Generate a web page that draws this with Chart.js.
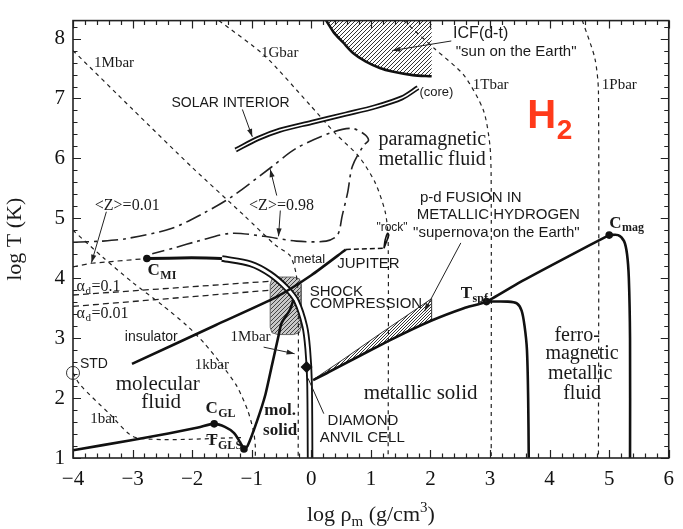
<!DOCTYPE html>
<html>
<head>
<meta charset="utf-8">
<script src="https://cdn.jsdelivr.net/npm/chart.js@4.4.1/dist/chart.umd.min.js"></script>
<style>
  html, body { margin: 0; padding: 0; background: #fff; }
  #wrap { width: 683px; height: 529px; }
</style>
</head>
<body>
<div id="wrap"><canvas id="phaseChart" width="683" height="529"></canvas></div>
<script>
const SERIF = '"Liberation Serif", "DejaVu Serif", serif';
const SANS = '"Liberation Sans", "DejaVu Sans", sans-serif';

// axes: log density (g/cm3) and log temperature (K)
const xRange = [-4, 6];
const yRange = [1, 8.3];

// isobars (short dashes)
const iso1bar = [[-4, 2.42], [-3.88, 2.22], [-3.39, 1.74], [-2.94, 1.34], [-1.13, 1.34]];
const iso1kbar = [[-4, 4.8], [-3.5, 4.35], [-3.0, 3.93], [-2.5, 3.55], [-2.1, 3.22], [-1.8, 2.92], [-1.5, 2.55], [-1.25, 2.2], [-1.07, 1.8], [-0.97, 1.45], [-0.94, 1.2], [-0.94, 1.0]];
const iso1Mbar = [[-4, 7.8], [-3, 6.82], [-2, 5.85], [-1.13, 5.05], [-0.6, 4.55], [-0.36, 4.38], [-0.26, 4.1], [-0.22, 3.7], [-0.22, 1.0]];
const iso1Gbar = [[-1.55, 8.3], [-0.79, 7.72], [-0.03, 6.9], [0.41, 6.41], [0.8, 6.03], [1.07, 5.6], [1.24, 5.11], [1.29, 4.67], [1.29, 1.0]];
const iso1Tbar = [[1.55, 8.3], [2.07, 7.83], [2.56, 7.39], [2.89, 6.8], [3.0, 6.2], [3.02, 5.5], [3.02, 1.0]];
const iso1Pbar = [[4.55, 8.3], [4.76, 7.67], [4.82, 7.12], [4.82, 1.0]];

// ionisation contours and dissociation lines
const zContour098 = [[-4, 4.6], [-3.5, 4.62], [-3.11, 4.66], [-2.35, 4.83], [-1.82, 5.08], [-1.35, 5.35], [-0.69, 5.84], [-0.25, 6.17], [0.36, 6.44], [0.69, 6.5], [0.91, 6.39], [0.96, 6.3], [0.88, 6.22], [0.69, 5.87], [0.61, 5.43], [0.52, 5.05], [0.44, 4.72], [0.25, 4.62], [-0.25, 4.62], [-0.8, 4.7], [-1.35, 4.75], [-1.9, 4.62], [-2.29, 4.51], [-2.67, 4.41]];
const zContour001 = [[-4, 4.19], [-3.69, 4.25], [-2.76, 4.33]];
const alphaD01 = [[-4, 3.72], [-0.69, 3.95]];
const alphaD001 = [[-4, 3.53], [-0.69, 3.8]];

// phase boundaries (solid)
const gasLiquid = [[-4, 1.13], [-3.0, 1.3], [-2.4, 1.41], [-1.9, 1.51], [-1.63, 1.57], [-1.45, 1.52], [-1.3, 1.42], [-1.2, 1.27], [-1.13, 1.15]];
const meltingLine = [[-1.13, 1.15], [-1.07, 1.2], [-0.91, 1.62], [-0.77, 2.06], [-0.66, 2.55], [-0.55, 3.04], [-0.5, 3.25], [-0.36, 3.47], [-0.3, 3.64]];
const cmiSingle = [[-2.76, 4.33], [-2.01, 4.34], [-1.5, 4.33]];
const cmiDouble = [[-1.5, 4.33], [-1.02, 4.24], [-0.69, 4.07], [-0.41, 3.83], [-0.25, 3.62], [-0.11, 3.2], [-0.06, 2.82], [-0.03, 2.27], [-0.02, 1.0]];
const jupiterLine = [[-3.01, 2.57], [-1.6, 3.22], [-0.6, 3.68], [0.0, 4.05], [0.58, 4.48]];
const jupiterDash = [[0.58, 4.48], [1.2, 4.5]];
const rockMark = [[1.22, 4.5], [1.25, 4.58], [1.3, 4.72], [1.28, 4.75], [1.24, 4.64], [1.22, 4.5]];
const solidFluid = [[0.03, 2.3], [0.25, 2.41], [1.35, 2.98], [2.01, 3.29], [2.56, 3.5], [2.94, 3.61], [3.55, 3.96], [4.38, 4.4], [5.0, 4.72]];
const spfBoundary = [[2.94, 3.61], [3.3, 3.61], [3.45, 3.58], [3.53, 3.46], [3.58, 3.2], [3.62, 2.8], [3.64, 2.0], [3.65, 1.0]];
const magBoundary = [[5.0, 4.72], [5.15, 4.72], [5.25, 4.62], [5.3, 4.4], [5.33, 4.0], [5.35, 3.0], [5.35, 1.0]];
const solarInterior = [[-1.27, 6.14], [-0.9, 6.33], [-0.53, 6.47], [0.0, 6.6], [0.58, 6.74], [1.07, 6.86], [1.52, 7.01], [1.79, 7.18]];

// hatched regions
const icfCurve = [[0.25, 8.3], [0.38, 8.1], [0.53, 7.94], [0.7, 7.76], [0.91, 7.62], [1.15, 7.51], [1.36, 7.45], [1.7, 7.39], [2.02, 7.37]];
const icfRegion = icfCurve.concat([[2.02, 8.3], [0.25, 8.3]]);
const shockRegion = [[-0.56, 4.02], [-0.3, 4.02], [-0.2, 3.99], [-0.17, 3.9], [-0.17, 3.18], [-0.2, 3.09], [-0.3, 3.06], [-0.56, 3.06], [-0.66, 3.09], [-0.69, 3.18], [-0.69, 3.9], [-0.66, 3.99], [-0.56, 4.02]];
const fusionRegion = [[0.05, 2.32], [1.0, 2.82], [2.02, 3.3], [2.02, 3.66], [1.12, 3.05], [0.5, 2.62], [0.05, 2.32]];

// marked points
const criticalPts = [[-2.76, 4.33], [-1.63, 1.57], [-1.13, 1.15], [2.94, 3.61], [5.0, 4.72]];
const dacPoint = [[-0.08, 2.52]];
const stdPoint = [[-4, 2.42]];

// annotation text (positions in data units)
const notes = [
  { t: '1Mbar', x: -3.31, y: 7.585, f: 'serif', s: 15 },
  { t: '1Gbar', x: -0.53, y: 7.75, f: 'serif', s: 15 },
  { t: 'SOLAR INTERIOR', x: -1.355, y: 6.93, f: 'sans', s: 14 },
  { t: '<Z>=0.01', x: -3.09, y: 5.216, f: 'serif', s: 16 },
  { t: '<Z>=0.98', x: -0.5, y: 5.216, f: 'serif', s: 16 },
  { t: 'ICF(d-t)', x: 2.843, y: 8.075, f: 'sans', s: 16 },
  { t: '"sun on the Earth"', x: 3.438, y: 7.78, f: 'sans', s: 15 },
  { t: '1Tbar', x: 3.01, y: 7.225, f: 'serif', s: 15 },
  { t: '1Pbar', x: 5.17, y: 7.225, f: 'serif', s: 15 },
  { t: 'H', sub: '2', x: 3.868, y: 6.69, f: 'sans', s: 40, w: 'bold', ss: 28, sdy: 14, color: '#ff3a1a' },
  { t: '(core)', x: 2.1, y: 7.095, f: 'sans', s: 13 },
  { t: 'paramagnetic', x: 2.03, y: 6.31, f: 'serif', s: 20 },
  { t: 'metallic fluid', x: 2.03, y: 5.984, f: 'serif', s: 20 },
  { t: 'p-d FUSION IN', x: 2.678, y: 5.346, f: 'sans', s: 15 },
  { t: 'METALLIC HYDROGEN', x: 3.14, y: 5.05, f: 'sans', s: 15 },
  { t: '"supernova on the Earth"', x: 3.107, y: 4.758, f: 'sans', s: 15 },
  { t: '"rock"', x: 1.355, y: 4.84, f: 'sans', s: 12 },
  { t: 'C', sub: 'mag', x: 5.104, y: 4.917, f: 'serif', s: 17, w: 'bold' },
  { t: 'C', sub: 'MI', x: -2.645, y: 4.13, f: 'serif', s: 17, w: 'bold' },
  { t: 'metal', x: -0.033, y: 4.317, f: 'sans', s: 13 },
  { t: 'JUPITER', x: 0.959, y: 4.235, f: 'sans', s: 15 },
  { t: 'SHOCK', x: -0.028, y: 3.77, f: 'sans', s: 15, align: 'left' },
  { t: 'COMPRESSION', x: -0.028, y: 3.58, f: 'sans', s: 15, align: 'left' },
  { t: '\u03b1', sub: 'd', after: '=0.1', x: -3.94, y: 3.864, f: 'serif', s: 16, align: 'left' },
  { t: '\u03b1', sub: 'd', after: '=0.01', x: -3.94, y: 3.407, f: 'serif', s: 16, align: 'left' },
  { t: 'insulator', x: -2.686, y: 3.01, f: 'sans', s: 14 },
  { t: '1Mbar', x: -1.02, y: 3.026, f: 'serif', s: 15 },
  { t: 'STD', x: -3.884, y: 2.57, f: 'sans', s: 14, align: 'left' },
  { t: '1kbar', x: -1.669, y: 2.557, f: 'serif', s: 15 },
  { t: 'molecular', x: -2.578, y: 2.22, f: 'serif', s: 21 },
  { t: 'fluid', x: -2.52, y: 1.92, f: 'serif', s: 21 },
  { t: '1bar', x: -3.488, y: 1.65, f: 'serif', s: 15 },
  { t: 'C', sub: 'GL', x: -1.673, y: 1.82, f: 'serif', s: 17, w: 'bold' },
  { t: 'T', sub: 'GLS', x: -1.669, y: 1.283, f: 'serif', s: 17, w: 'bold' },
  { t: 'mol.', x: -0.524, y: 1.784, f: 'serif', s: 17, w: 'bold' },
  { t: 'solid', x: -0.524, y: 1.457, f: 'serif', s: 17, w: 'bold' },
  { t: 'DIAMOND', x: 0.868, y: 1.62, f: 'sans', s: 15 },
  { t: 'ANVIL CELL', x: 0.855, y: 1.34, f: 'sans', s: 15 },
  { t: 'T', sub: 'spf', x: 2.603, y: 3.745, f: 'serif', s: 17, w: 'bold' },
  { t: 'metallic solid', x: 1.835, y: 2.08, f: 'serif', s: 21 },
  { t: 'ferro-', x: 4.463, y: 3.04, f: 'serif', s: 20 },
  { t: 'magnetic', x: 4.545, y: 2.74, f: 'serif', s: 20 },
  { t: 'metallic', x: 4.512, y: 2.41, f: 'serif', s: 20 },
  { t: 'fluid', x: 4.545, y: 2.08, f: 'serif', s: 20 }
];

// pointer lines: from, to, arrowhead
const pointers = [
  { from: [-1.157, 6.817], to: [-0.99, 6.36], head: true },
  { from: [-3.44, 5.11], to: [-3.69, 4.26], head: true },
  { from: [-0.58, 5.38], to: [-0.69, 5.82], head: true },
  { from: [-0.52, 5.13], to: [-0.55, 4.7], head: true },
  { from: [2.35, 7.96], to: [1.36, 7.8], head: true },
  { from: [-0.8, 2.85], to: [-0.28, 2.74], head: true },
  { from: [-0.055, 2.33], to: [0.21, 1.74], head: false },
  { from: [2.51, 4.59], to: [1.9, 3.45], head: true }
];

const toPts = arr => arr.map(([x, y]) => ({ x, y }));

function hatch(lineColor, bg, gap) {
  const c = document.createElement('canvas');
  c.width = gap; c.height = gap;
  const g = c.getContext('2d');
  if (bg) { g.fillStyle = bg; g.fillRect(0, 0, gap, gap); }
  g.strokeStyle = lineColor;
  g.lineWidth = 1;
  g.beginPath();
  g.moveTo(0, gap); g.lineTo(gap, 0);
  g.moveTo(-1, 1); g.lineTo(1, -1);
  g.moveTo(gap - 1, gap + 1); g.lineTo(gap + 1, gap - 1);
  g.stroke();
  return g.createPattern(c, 'repeat');
}

function line(pts, opts) {
  return Object.assign({
    data: toPts(pts), showLine: true, pointRadius: 0, borderColor: '#111',
    borderWidth: 2.4, fill: false, tension: 0.25, order: 3
  }, opts);
}

const dashThin = { borderWidth: 1.2, borderDash: [4, 4], borderColor: '#222', order: 10 };

const datasets = [
  line(icfRegion, { borderWidth: 0, fill: 'shape', backgroundColor: hatch('#333', '#fff', 4), tension: 0, order: 20 }),
  line(shockRegion, { borderWidth: 1, borderColor: '#666', fill: 'shape', backgroundColor: hatch('#444', '#c8c8c8', 4), tension: 0, order: 20 }),
  line(fusionRegion, { borderWidth: 1, borderColor: '#333', fill: 'shape', backgroundColor: hatch('#333', '#fff', 3), tension: 0, order: 20 }),
  line(iso1bar, dashThin),
  line(iso1kbar, dashThin),
  line(iso1Mbar, dashThin),
  line(iso1Gbar, dashThin),
  line(iso1Tbar, dashThin),
  line(iso1Pbar, dashThin),
  line(zContour098, { borderWidth: 1.6, borderDash: [16, 5, 3, 5], borderColor: '#222', tension: 0.3, order: 10 }),
  line(zContour001, { borderWidth: 1.2, borderDash: [5, 4], borderColor: '#222', tension: 0, order: 10 }),
  line(alphaD01, { borderWidth: 1.3, borderDash: [6, 4], borderColor: '#222', tension: 0, order: 10 }),
  line(alphaD001, { borderWidth: 1.3, borderDash: [6, 4], borderColor: '#222', tension: 0, order: 10 }),
  line(cmiDouble, { borderWidth: 6.5, tension: 0.3, order: 6 }),
  line(cmiDouble, { borderWidth: 2.8, borderColor: '#fff', tension: 0.3, order: 5 }),
  line(solarInterior, { borderWidth: 5, tension: 0.3, order: 6 }),
  line(solarInterior, { borderWidth: 1.6, borderColor: '#fff', tension: 0.3, order: 5 }),
  line(icfCurve, { borderWidth: 2.6, tension: 0.3 }),
  line(gasLiquid, { borderWidth: 2.6, tension: 0.3 }),
  line(meltingLine, { borderWidth: 2.6, tension: 0.2 }),
  line(cmiSingle, { borderWidth: 3, tension: 0.2 }),
  line(jupiterLine, { borderWidth: 2.6, tension: 0.2 }),
  line(jupiterDash, { borderWidth: 1.6, borderDash: [5, 3], tension: 0 }),
  line(rockMark, { borderWidth: 1.6, tension: 0.3 }),
  line(solidFluid, { borderWidth: 2.6, tension: 0.2 }),
  line(spfBoundary, { borderWidth: 2.6, tension: 0.3 }),
  line(magBoundary, { borderWidth: 2.6, tension: 0.3 }),
  { data: toPts(criticalPts), showLine: false, pointRadius: 3.8, pointBackgroundColor: '#111', pointBorderWidth: 0, order: 1 },
  { data: toPts(dacPoint), showLine: false, pointStyle: 'rectRot', pointRadius: 6, pointBackgroundColor: '#111', pointBorderWidth: 0, order: 1 },
  { data: toPts(stdPoint), showLine: false, pointRadius: 6.5, pointBackgroundColor: 'rgba(0,0,0,0)', pointBorderColor: '#333', pointBorderWidth: 1, clip: 10, order: 1 }
];

function drawNote(ctx, px, py, L) {
  const fam = L.f === 'sans' ? SANS : SERIF;
  const w = L.w || 'normal';
  const ss = L.ss || Math.round(L.s * 0.68);
  const sdy = L.sdy !== undefined ? L.sdy : L.s * 0.3;
  ctx.fillStyle = L.color || '#1a1a1a';
  ctx.textBaseline = 'middle';
  ctx.textAlign = 'left';
  ctx.font = `${w} ${L.s}px ${fam}`;
  const mainW = ctx.measureText(L.t).width;
  let subW = 0, afterW = 0;
  if (L.sub) { ctx.font = `${w} ${ss}px ${fam}`; subW = ctx.measureText(L.sub).width; }
  if (L.after) { ctx.font = `${w} ${L.s}px ${fam}`; afterW = ctx.measureText(L.after).width; }
  let x0;
  if (L.align === 'left') x0 = px;
  else if (L.sub) x0 = px - mainW / 2;
  else x0 = px - (mainW + afterW) / 2;
  ctx.font = `${w} ${L.s}px ${fam}`;
  ctx.fillText(L.t, x0, py);
  if (L.sub) {
    ctx.font = `${w} ${ss}px ${fam}`;
    ctx.fillText(L.sub, x0 + mainW + 0.5, py + sdy);
  }
  if (L.after) {
    ctx.font = `${w} ${L.s}px ${fam}`;
    ctx.fillText(L.after, x0 + mainW + subW + 1, py);
  }
}

const annotations = {
  id: 'annotations',
  afterDatasetsDraw(chart) {
    const { ctx, scales: { x, y } } = chart;
    ctx.save();
    ctx.strokeStyle = '#222';
    ctx.fillStyle = '#222';
    ctx.lineWidth = 1;
    pointers.forEach(p => {
      const x1 = x.getPixelForValue(p.from[0]), y1 = y.getPixelForValue(p.from[1]);
      const x2 = x.getPixelForValue(p.to[0]), y2 = y.getPixelForValue(p.to[1]);
      ctx.beginPath(); ctx.moveTo(x1, y1); ctx.lineTo(x2, y2); ctx.stroke();
      if (p.head) {
        const a = Math.atan2(y2 - y1, x2 - x1);
        ctx.beginPath();
        ctx.moveTo(x2, y2);
        ctx.lineTo(x2 - 8 * Math.cos(a) + 2.6 * Math.sin(a), y2 - 8 * Math.sin(a) - 2.6 * Math.cos(a));
        ctx.lineTo(x2 - 8 * Math.cos(a) - 2.6 * Math.sin(a), y2 - 8 * Math.sin(a) + 2.6 * Math.cos(a));
        ctx.closePath(); ctx.fill();
      }
    });
    notes.forEach(L => drawNote(ctx, x.getPixelForValue(L.x), y.getPixelForValue(L.y), L));
    ctx.restore();
  },
  afterDraw(chart) {
    const { ctx, chartArea: a, scales: { x, y } } = chart;
    ctx.save();
    ctx.strokeStyle = '#222';
    ctx.lineWidth = 1.2;
    ctx.beginPath();
    for (let i = 0; i <= 50; i++) {
      const v = xRange[0] + i * 0.2;
      const px = Math.round(x.getPixelForValue(v)) + 0.5;
      const len = i % 5 === 0 ? 8 : 4.5;
      ctx.moveTo(px, a.bottom); ctx.lineTo(px, a.bottom - len);
      ctx.moveTo(px, a.top); ctx.lineTo(px, a.top + len);
    }
    for (let i = 0; i <= 36; i++) {
      const v = yRange[0] + i * 0.2;
      const py = Math.round(y.getPixelForValue(v)) + 0.5;
      const len = i % 5 === 0 ? 8 : 4.5;
      ctx.moveTo(a.left, py); ctx.lineTo(a.left + len, py);
      ctx.moveTo(a.right, py); ctx.lineTo(a.right - len, py);
    }
    ctx.stroke();
    ctx.lineWidth = 1.6;
    ctx.strokeRect(a.left, a.top, a.right - a.left, a.bottom - a.top);

    // x axis title with subscript / superscript
    const cx = (a.left + a.right) / 2, cy = 514;
    ctx.fillStyle = '#1a1a1a';
    ctx.textBaseline = 'alphabetic';
    ctx.textAlign = 'left';
    const big = `22px ${SERIF}`, small = `15px ${SERIF}`;
    const parts = [['log \u03c1', big, 0], ['m', small, 5], [' (g/cm', big, 0], ['3', small, -9], [')', big, 0]];
    let total = 0;
    parts.forEach(([t, f]) => { ctx.font = f; total += ctx.measureText(t).width; });
    let cur = cx - total / 2;
    parts.forEach(([t, f, dy]) => { ctx.font = f; ctx.fillText(t, cur, cy + 7 + dy); cur += ctx.measureText(t).width; });
    ctx.restore();
  }
};

new Chart(document.getElementById('phaseChart').getContext('2d'), {
  type: 'scatter',
  data: { datasets: datasets },
  options: {
    responsive: false,
    animation: false,
    devicePixelRatio: 1,
    layout: { padding: { top: 10, right: 5, left: 0, bottom: 0 } },
    plugins: { legend: { display: false }, tooltip: { enabled: false } },
    scales: {
      x: {
        type: 'linear', min: xRange[0], max: xRange[1],
        grid: { display: false, drawTicks: false },
        border: { display: false },
        ticks: {
          stepSize: 1, padding: 9, color: '#111',
          font: { family: SERIF, size: 21 },
          callback: v => (v < 0 ? '\u2212' + Math.abs(v) : String(v))
        },
        afterFit: s => { s.height = 71; }
      },
      y: {
        type: 'linear', min: yRange[0], max: yRange[1],
        grid: { display: false, drawTicks: false },
        border: { display: false },
        ticks: {
          stepSize: 1, padding: 8, color: '#111', includeBounds: false,
          font: { family: SERIF, size: 21 }
        },
        title: { display: true, text: 'log T (K)', color: '#1a1a1a', font: { family: SERIF, size: 22 }, padding: { top: 2, bottom: 4 } },
        afterFit: s => { s.width = 73; }
      }
    }
  },
  plugins: [annotations]
});
</script>
</body>
</html>
